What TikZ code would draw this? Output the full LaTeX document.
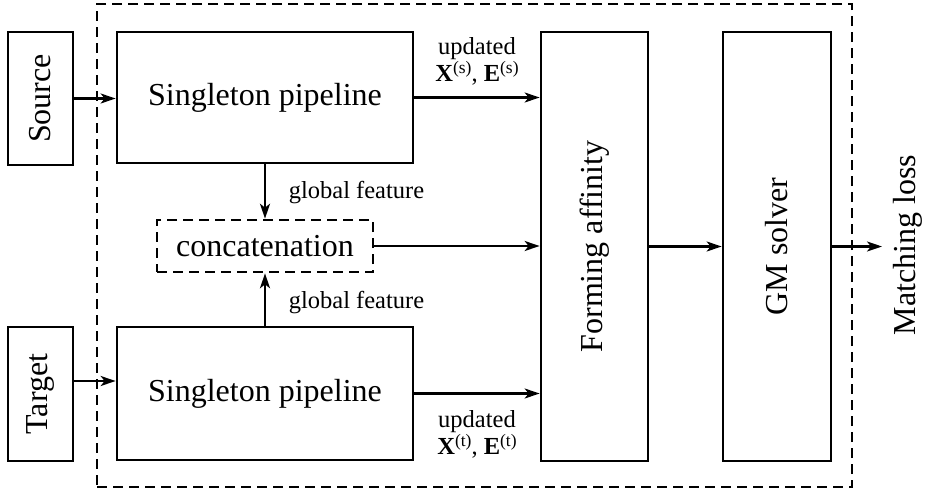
\documentclass[tikz,border=0pt]{standalone}
\usepackage{fontspec}
\setmainfont{Liberation Serif}
\usetikzlibrary{arrows.meta}
\newcommand{\supx}[1]{\raisebox{0.33em}{\fontsize{17.5}{18}\selectfont(#1)}}
\begin{document}
\begin{tikzpicture}[x=1pt,y=-1pt,
  box/.style={draw, line width=2.7pt, inner sep=0pt},
  dbox/.style={draw, line width=2.6pt, inner sep=0pt, dash pattern=on 10pt off 6pt},
  arr/.style={line width=2.1pt, -{Stealth[length=15pt,width=10pt,inset=4pt]}},
  big/.style={font=\fontsize{32}{38}\selectfont, inner sep=0pt},
  small/.style={font=\fontsize{24.5}{29}\selectfont, inner sep=0pt, align=center}]
\useasboundingbox (0,0) rectangle (927,490);
% outer frame
\node[dbox, minimum width=755pt, minimum height=483pt] (frame) at (474.5,245.5) {};
% boxes
\node[box, minimum width=65pt, minimum height=133pt] (src) at (40.5,98.5) {};
\node[big, rotate=90] (srct) at (src) {Source};
\node[box, minimum width=65pt, minimum height=134pt] (tgt) at (40.5,394) {};
\node[big, rotate=90] (tgtt) at (tgt) {Target};
\node[box, minimum width=296pt, minimum height=131pt] (sp1) at (265,97.5) {};
\node[big] (sp1t) at (sp1) {Singleton pipeline};
\node[box, minimum width=296pt, minimum height=133pt] (sp2) at (265,393.5) {};
\node[big] (sp2t) at (sp2) {Singleton pipeline};
\node[dbox, minimum width=216pt, minimum height=52pt] (cc) at (265,246) {};
\node[big] (cct) at (cc) {concatenation};
\node[box, minimum width=107pt, minimum height=429pt] (fa) at (594.5,246.5) {};
\node[big, rotate=90] (fat) at (fa) {Forming affinity};
\node[box, minimum width=108pt, minimum height=429pt] (gm) at (777,246.5) {};
\node[big, rotate=90] (gmt) at (gm) {GM solver};
\coordinate (out) at (882,246.5);
\node[big, rotate=90] (ml) at (908,245) {Matching loss};
% labels
\node[small] (gf1) at (356.5,193) {global feature};
\node[small] (gf2) at (356.5,303) {global feature};
\node[small] (u1) at (477,61) {updated\\[-2pt]\textbf{X}\supx{s}, \textbf{E}\supx{s}};
\node[small] (u2) at (477,434) {updated\\[-2pt]\textbf{X}\supx{t}, \textbf{E}\supx{t}};
% connectors
\draw[arr] (src.east) -- (src.east -| sp1.west);
\coordinate (tin) at ([yshift=13pt]tgt.east);
\draw[arr] (tin) -- (tin -| sp2.west);
\draw[arr] (sp1.east) -- (sp1.east -| fa.west);
\draw[arr] (sp2.east) -- (sp2.east -| fa.west);
\draw[arr] (cc.east) -- (cc.east -| fa.west);
\draw[arr] (fa.east) -- (gm.west);
\draw[arr] (gm.east) -- (out);
\draw[arr] (sp1.south) -- (cc.north);
\draw[arr] (sp2.north) -- (cc.south);
\end{tikzpicture}
\end{document}
